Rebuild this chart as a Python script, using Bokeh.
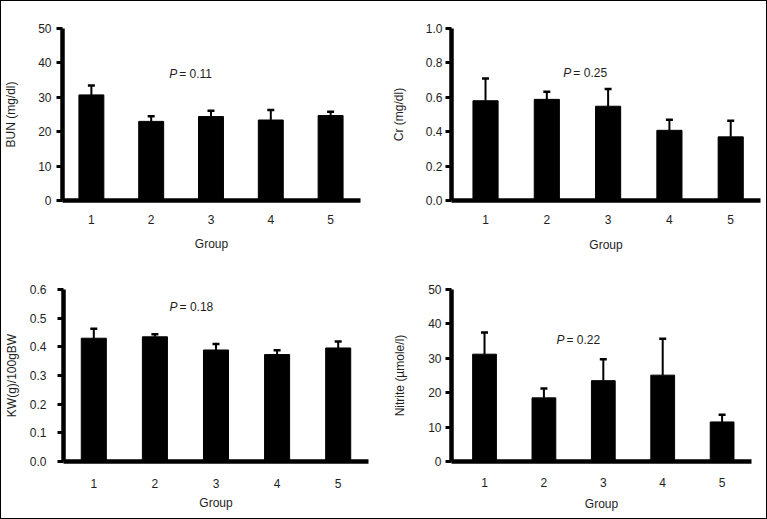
from bokeh.plotting import figure
from bokeh.layouts import row, column
from bokeh.models import ColumnDataSource, Whisker, TeeHead, Range1d, FixedTicker, Label
from bokeh.embed import file_html
from bokeh.resources import INLINE

# ---------------- data ----------------
groups = [1, 2, 3, 4, 5]
group_labels = ["1", "2", "3", "4", "5"]

bun_mean = [30.7, 23.0, 24.4, 23.4, 24.7]
bun_err = [2.7, 1.5, 1.7, 2.9, 1.1]
bun_ticks = [0, 10, 20, 30, 40, 50]
bun_tick_labels = ["0", "10", "20", "30", "40", "50"]

cr_mean = [0.58, 0.588, 0.548, 0.408, 0.370]
cr_err = [0.13, 0.044, 0.10, 0.061, 0.094]
cr_ticks = [0.0, 0.2, 0.4, 0.6, 0.8, 1.0]
cr_tick_labels = ["0.0", "0.2", "0.4", "0.6", "0.8", "1.0"]

kw_mean = [0.430, 0.435, 0.389, 0.373, 0.396]
kw_err = [0.033, 0.009, 0.021, 0.015, 0.023]
kw_ticks = [0.0, 0.1, 0.2, 0.3, 0.4, 0.5, 0.6]
kw_tick_labels = ["0.0", "0.1", "0.2", "0.3", "0.4", "0.5", "0.6"]

nit_mean = [31.2, 18.5, 23.5, 25.1, 11.5]
nit_err = [6.3, 2.7, 6.2, 10.6, 2.1]
nit_ticks = [0, 10, 20, 30, 40, 50]
nit_tick_labels = ["0", "10", "20", "30", "40", "50"]

p_values = ["0.11", "0.25", "0.18", "0.22"]
x_title = "Group"

FONT = "Liberation Sans"
TXT = "#1e1e1e"


def panel(mean, err, ticks, tick_labels, ylabel, pval, p_pos, xr, w, h,
          ml, mr, mt, mb, bw, ylab_standoff, yaxlab_standoff,
          xlab_standoff, xaxlab_standoff):
    p = figure(width=w, height=h, output_backend="svg", toolbar_location=None,
               x_range=Range1d(*xr), y_range=Range1d(ticks[0], ticks[-1]),
               min_border_left=ml, min_border_right=mr,
               min_border_top=mt, min_border_bottom=mb)
    p.outline_line_color = None
    p.xgrid.visible = False
    p.ygrid.visible = False
    p.background_fill_color = "white"
    p.border_fill_color = "white"

    upper = [m + e for m, e in zip(mean, err)]
    src = ColumnDataSource(dict(x=groups, top=mean, upper=upper))
    p.vbar(x="x", top="top", bottom=0, width=bw, source=src,
           fill_color="black", line_color="black")
    wk = Whisker(base="x", lower="top", upper="upper", source=src,
                 dimension="height", line_color="black", line_width=2,
                 upper_head=TeeHead(size=7, line_color="black", line_width=2.5),
                 lower_head=None)
    p.add_layout(wk)

    # x axis
    xa = p.xaxis[0]
    xa.ticker = FixedTicker(ticks=groups)
    xa.major_label_overrides = {g: l for g, l in zip(groups, group_labels)}
    xa.major_tick_line_color = None
    xa.minor_tick_line_color = None
    xa.axis_line_width = 4.5
    xa.axis_line_color = "black"
    xa.axis_label = x_title
    xa.axis_label_text_font = FONT
    xa.axis_label_text_font_style = "normal"
    xa.axis_label_text_font_size = "12px"
    xa.axis_label_text_color = TXT
    xa.major_label_text_font = FONT
    xa.major_label_text_font_size = "12px"
    xa.major_label_text_color = TXT
    xa.major_label_standoff = xlab_standoff
    xa.axis_label_standoff = xaxlab_standoff

    # y axis
    ya = p.yaxis[0]
    ya.ticker = FixedTicker(ticks=ticks)
    ya.major_label_overrides = {t: l for t, l in zip(ticks, tick_labels)}
    ya.minor_tick_line_color = None
    ya.major_tick_in = 0
    ya.major_tick_out = 6
    ya.major_tick_line_width = 3
    ya.major_tick_line_color = "black"
    ya.axis_line_width = 4.5
    ya.axis_line_color = "black"
    ya.axis_label = ylabel
    ya.axis_label_text_font = FONT
    ya.axis_label_text_font_style = "normal"
    ya.axis_label_text_font_size = "12px"
    ya.axis_label_text_color = TXT
    ya.major_label_text_font = FONT
    ya.major_label_text_font_size = "12px"
    ya.major_label_text_color = TXT
    ya.major_label_standoff = ylab_standoff
    ya.axis_label_standoff = yaxlab_standoff

    # P value annotation
    px, py = p_pos
    p.add_layout(Label(x=px, y=py, text="P", text_font=FONT, text_font_size="12px",
                       text_font_style="italic", text_color=TXT,
                       text_baseline="middle", text_align="left"))
    p.add_layout(Label(x=px, y=py, x_offset=10, text="= " + pval, text_font=FONT,
                       text_font_size="12px", text_color=TXT,
                       text_baseline="middle", text_align="left"))
    return p


p1 = panel(bun_mean, bun_err, bun_ticks, bun_tick_labels, "BUN (mg/dl)", p_values[0],
           (2.3, 36.8), (0.517, 5.5), 382, 257, 60, 23, 27, 56, 0.417,
           5, 17, 8, 10)
p2 = panel(cr_mean, cr_err, cr_ticks, cr_tick_labels, "Cr (mg/dl)", p_values[1],
           (2.27, 0.74), (0.445, 5.486), 383, 257, 68, 6, 13, 58, 0.41,
           3, 17, 8, 11)
p3 = panel(kw_mean, kw_err, kw_ticks, kw_tick_labels, "KW(g)/100gBW", p_values[2],
           (2.24, 0.538), (0.504, 5.496), 382, 260, 60, 15, 28, 57, 0.41,
           11, 8, 11, 5)
p4 = panel(nit_mean, nit_err, nit_ticks, nit_tick_labels, "Nitrite (µmole/l)", p_values[3],
           (2.21, 35.4), (0.444, 5.495), 383, 260, 68, 15, 31, 56, 0.40,
           4, 18, 10, 7)

layout = column(row(p1, p2), row(p3, p4))
layout.styles = {"border": "1px solid black"}

open("out.html", "w").write(file_html(layout, INLINE))
